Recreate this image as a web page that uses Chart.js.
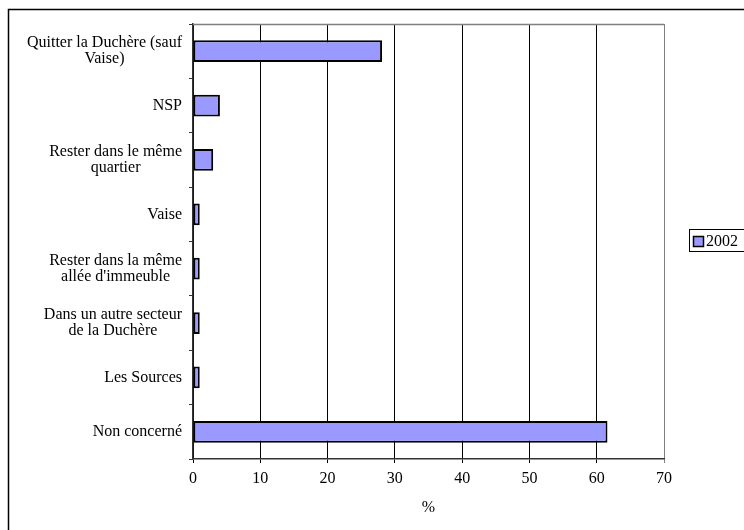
<!DOCTYPE html>
<html>
<head>
<meta charset="utf-8">
<script src="https://cdn.jsdelivr.net/npm/chart.js@4"></script>
<style>
html,body{margin:0;padding:0;background:#fff;}
#wrap{width:744px;height:530px;position:relative;}
</style>
</head>
<body>
<div id="wrap"><canvas id="c" width="744" height="530"></canvas></div>
<script>
const categories = [
  ["Quitter la Duchère (sauf", "Vaise)"],
  "NSP",
  ["Rester dans le même", "quartier"],
  "Vaise",
  ["Rester dans la même", "allée d'immeuble"],
  ["Dans un autre secteur", "de la Duchère"],
  "Les Sources",
  "Non concerné"
];
const values2002 = [28.1, 4, 3, 1, 1, 1, 1, 61.6];
const seriesLabel = "2002";
const xTicks = [0, 10, 20, 30, 40, 50, 60, 70];
const axisTitle = "%";

const FONT = "'Liberation Serif', 'Times New Roman', serif";
const FSIZE = 16;

const frame = {
  id: 'frame',
  beforeDraw(chart) {
    const ctx = chart.ctx;
    ctx.save();
    ctx.fillStyle = '#fff';
    ctx.fillRect(0, 0, chart.width, chart.height);
    ctx.strokeStyle = '#000';
    ctx.lineWidth = 1.5;
    ctx.beginPath();
    ctx.moveTo(8.5, 540);
    ctx.lineTo(8.5, 9.5);
    ctx.lineTo(760, 9.5);
    ctx.stroke();
    ctx.restore();
  },
  afterDatasetsDraw(chart) {
    const ctx = chart.ctx;
    const a = chart.chartArea;
    ctx.save();
    ctx.strokeStyle = '#808080';
    ctx.lineWidth = 1.5;
    ctx.beginPath();
    ctx.moveTo(a.left, a.top + 0.5);
    ctx.lineTo(a.right, a.top + 0.5);
    ctx.stroke();

    // category labels: block right-aligned, lines centered within block
    const ys = chart.scales.y;
    ctx.font = FSIZE + "px " + FONT;
    ctx.fillStyle = '#000';
    ctx.textBaseline = 'middle';
    ctx.textAlign = 'center';
    const right = 182;
    const lh = 16;
    chart.data.labels.forEach((lab, i) => {
      const lines = Array.isArray(lab) ? lab : [lab];
      const w = Math.max(...lines.map(l => ctx.measureText(l).width));
      const cx = right - w / 2;
      const cy = ys.getPixelForTick(i);
      const y0 = cy - (lines.length - 1) * lh / 2;
      lines.forEach((l, k) => ctx.fillText(l, cx, y0 + k * lh));
    });

    // legend
    const ds = chart.data.datasets[0];
    ctx.strokeStyle = '#000';
    ctx.lineWidth = 1;
    ctx.strokeRect(689.5, 229.5, 70, 22);
    ctx.fillStyle = ds.backgroundColor;
    ctx.fillRect(693.5, 236.5, 10, 10);
    ctx.lineWidth = 1.5;
    ctx.strokeRect(693.5, 236.5, 10, 10);
    ctx.fillStyle = '#000';
    ctx.textAlign = 'left';
    ctx.fillText(ds.label, 706, 241.5);
    ctx.restore();
  }
};

new Chart(document.getElementById('c'), {
  type: 'bar',
  data: {
    labels: categories,
    datasets: [{
      label: seriesLabel,
      data: values2002,
      backgroundColor: '#9999FF',
      borderColor: '#000',
      borderWidth: 2,
      borderSkipped: false,
      barPercentage: 0.8,
      categoryPercentage: 0.5
    }]
  },
  options: {
    indexAxis: 'y',
    responsive: false,
    animation: false,
    devicePixelRatio: 1,
    layout: { padding: { left: 0, right: 80, top: 24, bottom: 0 } },
    plugins: {
      legend: { display: false },
      tooltip: { enabled: false }
    },
    scales: {
      x: {
        min: 0, max: 70,
        afterBuildTicks(scale) { scale.ticks = xTicks.map(v => ({ value: v })); },
        afterFit(scale) { scale.height = 71; },
        grid: {
          color: ctx => (ctx.tick && ctx.tick.value === 70) ? '#808080' : '#000',
          lineWidth: 1,
          tickLength: 4,
          drawTicks: true
        },
        border: { color: '#333', width: 1.5 },
        ticks: { font: { family: FONT, size: FSIZE }, color: '#000', padding: 6, maxRotation: 0 },
        title: {
          display: true, text: axisTitle,
          font: { family: FONT, size: FSIZE }, color: '#000',
          padding: { top: 4, bottom: 13 }
        }
      },
      y: {
        offset: true,
        afterFit(scale) { scale.width = 193; },
        grid: {
          offset: true,
          drawOnChartArea: false,
          drawTicks: true,
          tickLength: 4,
          color: '#333'
        },
        border: { color: '#333', width: 1.5 },
        ticks: { display: false, autoSkip: false }
      }
    }
  },
  plugins: [frame]
});
</script>
</body>
</html>
